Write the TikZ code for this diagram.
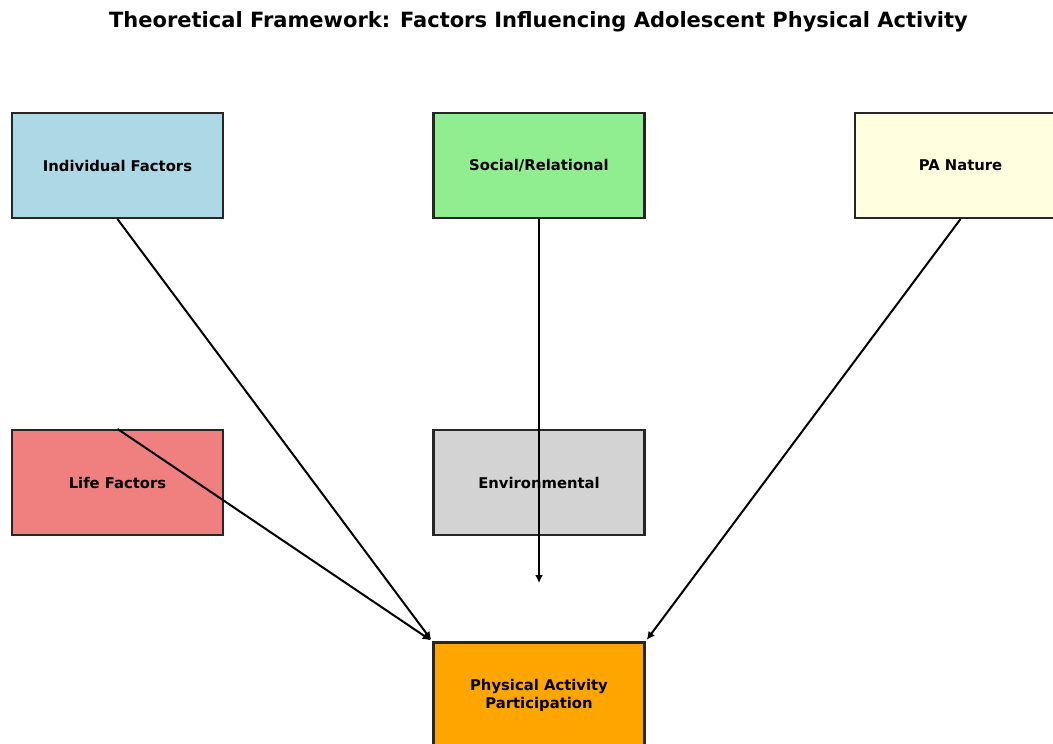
\documentclass[tikz,border=0pt]{standalone}
\usepackage{fontspec}
\setmainfont{DejaVu Sans}
\usetikzlibrary{arrows.meta}
\definecolor{cind}{HTML}{ADD8E6}
\definecolor{csoc}{HTML}{90EE90}
\definecolor{cpan}{HTML}{FFFFE0}
\definecolor{clife}{HTML}{F08080}
\definecolor{cenv}{HTML}{D3D3D3}
\definecolor{cpa}{HTML}{FFA500}
\definecolor{edge}{HTML}{262626}
\tikzset{
  factor/.style={draw=edge, line width=2.2pt, minimum width=211pt, minimum height=105pt,
    inner sep=0pt, align=center, font=\bfseries\fontsize{14.8}{18}\selectfont},
  link/.style={draw=black, line width=2pt, -{Latex[length=8pt,width=8pt]}},
}
\begin{document}
\begin{tikzpicture}[x=1pt,y=-1pt]
\clip (0,0) rectangle (1053,744);
\useasboundingbox (0,0) rectangle (1053,744);
\fill[white] (0,0) rectangle (1053,744);
\node[font=\bfseries\fontsize{21}{24}\selectfont] (title) at (538.5,22) {Theoretical Framework: Factors Influencing Adolescent Physical Activity};
\node[factor, fill=cind] (ind) at (117.5,165.5) {Individual Factors};
\node[factor, fill=csoc] (soc) at (539,165.5) {Social/Relational};
\node[factor, fill=cpan] (pan) at (960.5,165.5) {PA Nature};
\node[factor, fill=clife] (life) at (117.5,482.5) {Life Factors};
\node[factor, fill=cenv] (env) at (539,482.5) {Environmental};
\node[factor, fill=cpa] (pa) at (539,695) {Physical Activity\\Participation};
\coordinate (socend) at (539,583);
\draw[link, shorten >=2pt] (ind.south) -- (pa.north west);
\draw[link, shorten >=2pt] (life.north) -- (pa.north west);
\draw[link] (soc.south) -- (socend);
\draw[link, shorten >=2pt] (pan.south) -- (pa.north east);
\end{tikzpicture}
\end{document}
